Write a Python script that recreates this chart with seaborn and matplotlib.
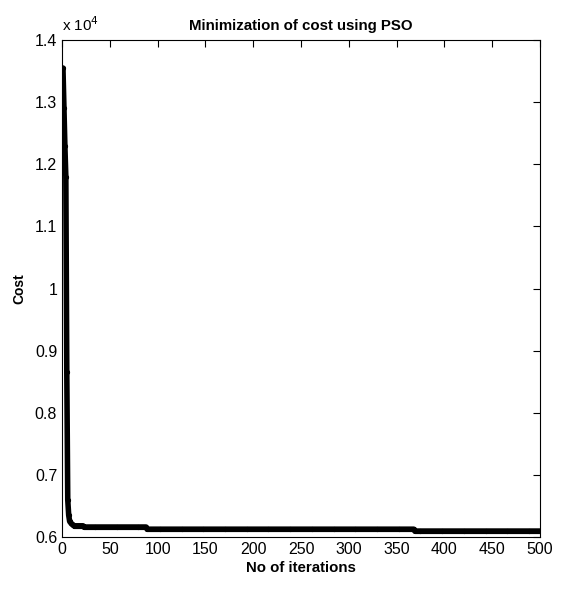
import numpy as np
import pandas as pd
import matplotlib
matplotlib.use("Agg")
import matplotlib.pyplot as plt
from matplotlib.ticker import FuncFormatter
import seaborn as sns

# first iterations read one by one
early_iter = [1, 2, 3, 4, 5, 6, 7, 8, 9, 10, 11, 12]
early_cost = [13550, 12900, 12300, 11800, 8650, 6600, 6350, 6250, 6230, 6210, 6200, 6190]

# flat stretches afterwards: (first iteration, last iteration, cost)
plateau_start = [13, 23, 89, 369]
plateau_end = [22, 88, 368, 500]
plateau_cost = [6180, 6160, 6125, 6095]

iters = list(early_iter)
cost = list(early_cost)
for a, b, c in zip(plateau_start, plateau_end, plateau_cost):
    iters += list(range(a, b + 1))
    cost += [c] * (b - a + 1)

df = pd.DataFrame({"iter": iters, "cost": cost})

sns.set_style("white")
plt.rcParams['font.family'] = ['Liberation Sans Narrow', 'Liberation Sans', 'DejaVu Sans']
plt.rcParams['text.color'] = 'black'
plt.rcParams['axes.labelcolor'] = 'black'

fig = plt.figure(figsize=(5.71, 5.89), dpi=100)
ax = fig.add_axes([0.1086, 0.0883, 0.8371, 0.8437])

sns.lineplot(data=df, x="iter", y="cost", color="black", linewidth=4,
             marker=".", markersize=6, markeredgecolor="black", ax=ax)

ax.set_xlim(0, 500)
ax.set_ylim(6000, 14000)
ax.set_xticks(np.arange(0, 501, 50))
ax.set_yticks(np.arange(6000, 14001, 1000))
ax.yaxis.set_major_formatter(FuncFormatter(lambda v, p: f"{v / 1e4:g}"))
ax.tick_params(direction="in", top=True, right=True, length=5, width=0.8,
               labelsize=11.5, color="black", labelcolor="black")
for s in ax.spines.values():
    s.set_color("black")
    s.set_linewidth(0.8)

ax.text(0.0, 1.012, r"x 10$^4$", transform=ax.transAxes, fontsize=11, ha="left", va="bottom")
ax.set_title("Minimization of cost using PSO", fontsize=10.8, fontweight="bold", pad=7)
ax.set_xlabel("No of iterations", fontsize=10.8, fontweight="bold", labelpad=3)
ax.set_ylabel("Cost", fontsize=10, fontweight="bold", labelpad=6)

fig.savefig("out.png", dpi=100)
